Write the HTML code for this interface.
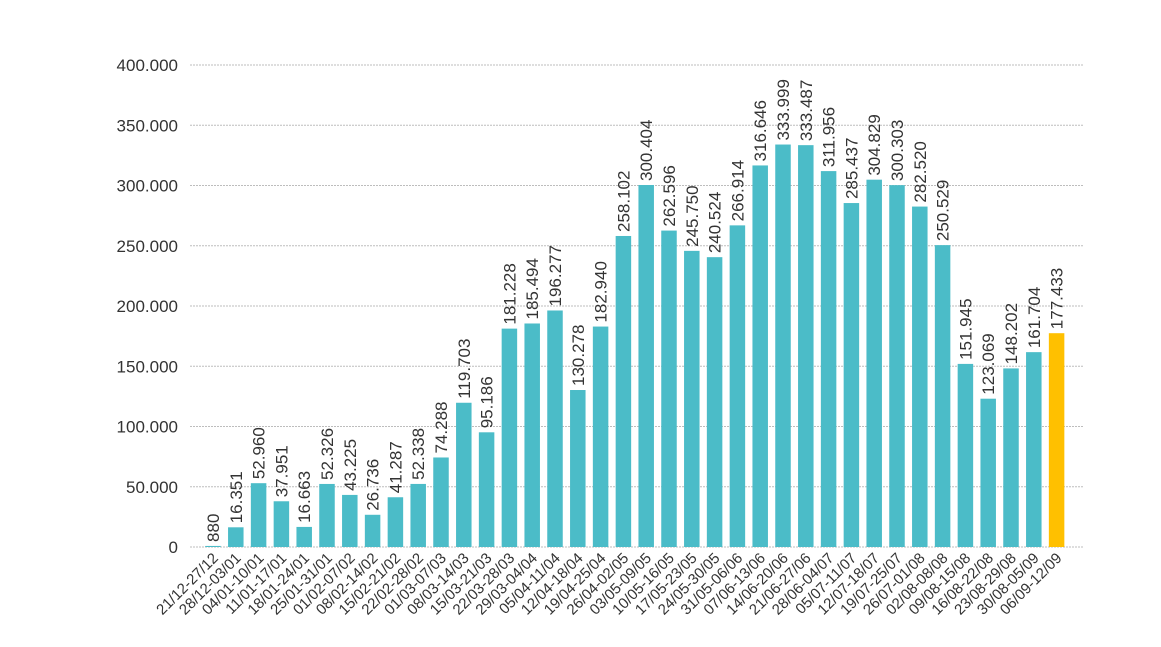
<!DOCTYPE html>
<html><head><meta charset="utf-8"><style>
body{margin:0;background:#fff;}
svg{display:block;font-family:"Liberation Sans",Arial,sans-serif;}
</style></head><body>
<svg id="chart" width="1161" height="647" viewBox="0 0 1161 647"></svg>
<script>
const categories=["21/12-27/12","28/12-03/01","04/01-10/01","11/01-17/01","18/01-24/01","25/01-31/01","01/02-07/02","08/02-14/02","15/02-21/02","22/02-28/02","01/03-07/03","08/03-14/03","15/03-21/03","22/03-28/03","29/03-04/04","05/04-11/04","12/04-18/04","19/04-25/04","26/04-02/05","03/05-09/05","10/05-16/05","17/05-23/05","24/05-30/05","31/05-06/06","07/06-13/06","14/06-20/06","21/06-27/06","28/06-04/07","05/07-11/07","12/07-18/07","19/07-25/07","26/07-01/08","02/08-08/08","09/08-15/08","16/08-22/08","23/08-29/08","30/08-05/09","06/09-12/09"];
const values=[880,16351,52960,37951,16663,52326,43225,26736,41287,52338,74288,119703,95186,181228,185494,196277,130278,182940,258102,300404,262596,245750,240524,266914,316646,333999,333487,311956,285437,304829,300303,282520,250529,151945,123069,148202,161704,177433];
const yTicks=[0,50000,100000,150000,200000,250000,300000,350000,400000];
const highlightIndex=37;
const svg=document.getElementById('chart');
const NS='http://www.w3.org/2000/svg';
const x0=201.6,x1=1068,yBase=547,yTop=65,yMax=400000;
const band=(x1-x0)/categories.length;
const xs=i=>x0+band*(i+0.5);
const ys=v=>yBase-(v/yMax)*(yBase-yTop);
const fmt=v=>v.toLocaleString('de-DE');
function mk(tag,attrs){const e=document.createElementNS(NS,tag);for(const k in attrs)e.setAttribute(k,attrs[k]);svg.appendChild(e);return e;}
yTicks.forEach(t=>{
  const g=mk('line',{x1:190,x2:1083,y1:ys(t),y2:ys(t),stroke:'#bdbdbd','stroke-width':1,'stroke-dasharray':'2,1'});
  
  
  const l=mk('text',{x:178,y:ys(t)+6,'text-anchor':'end','font-size':17,fill:'#333'});
  l.textContent=fmt(t);
  
  
});
values.forEach((v,i)=>{
  const cx=xs(i),w=15.5;
  const r=mk('rect',{x:cx-w/2,y:ys(v),width:w,height:yBase-ys(v),fill:i===highlightIndex?'#FFC000':'#4BBCC8'});
  
  
  const vl=mk('text',{x:0,y:0,'font-size':17,fill:'#333',transform:`translate(${cx+6},${ys(v)-4}) rotate(-90)`});
  vl.textContent=fmt(v);
  
  
  const cl=mk('text',{x:0,y:0,'font-size':15,fill:'#333','text-anchor':'end',transform:`translate(${cx+6},${yBase+12}) rotate(-45)`});
  cl.textContent=categories[i];
  
  
});
</script>
</body></html>
